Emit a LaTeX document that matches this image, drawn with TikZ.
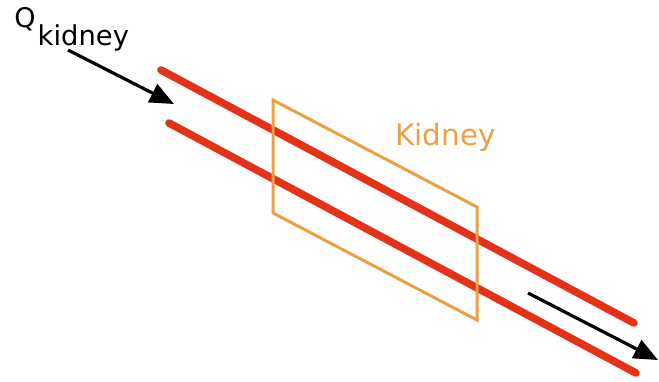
\documentclass[tikz,border=0pt]{standalone}
\usepackage{fontspec}
\setsansfont{DejaVu Sans}
\usepackage{tikz}
\usetikzlibrary{arrows.meta}
\definecolor{vessel}{HTML}{E4321A}
\definecolor{organ}{HTML}{EBA045}

\begin{document}
\begin{tikzpicture}[x=0.5pt,y=-0.5pt,vsl/.style={draw=vessel, line width=3.8pt, line cap=round},org/.style={draw=organ, line width=1.5pt, line join=miter},flow/.style={-{Triangle[length=12pt,width=10pt]}, line width=1.6pt},lbl/.style={font=\sffamily, inner sep=0pt, anchor=base west}]
\useasboundingbox (0,0) rectangle (659,381);
% vessel walls
\coordinate (topIn) at (161,70); \coordinate (topOut) at (634,323);
\coordinate (botIn) at (169,123); \coordinate (botOut) at (636,373);
\draw[vsl] (topIn) -- (topOut);
\draw[vsl] (botIn) -- (botOut);
% organ plane
\draw[org] (273,100) -- (477,207) -- (477,320) -- (273,213) -- cycle;
\node[lbl, font=\sffamily\fontsize{14.7}{15}\selectfont, text=organ] (kid) at (395,145) {Kidney};
% flow in and out
\node[lbl, font=\sffamily\fontsize{13.5}{14}\selectfont] (q) at (14,27) {Q\kern1pt\raisebox{-9pt}{\fontsize{13.7}{14}\selectfont kidney}};
\coordinate (inStart) at (68,50); \coordinate (inEnd) at (174,104);
\coordinate (outStart) at (528,293); \coordinate (outEnd) at (658,360);
\draw[flow] (inStart) -- (inEnd);
\draw[flow] (outStart) -- (outEnd);
\end{tikzpicture}
\end{document}
